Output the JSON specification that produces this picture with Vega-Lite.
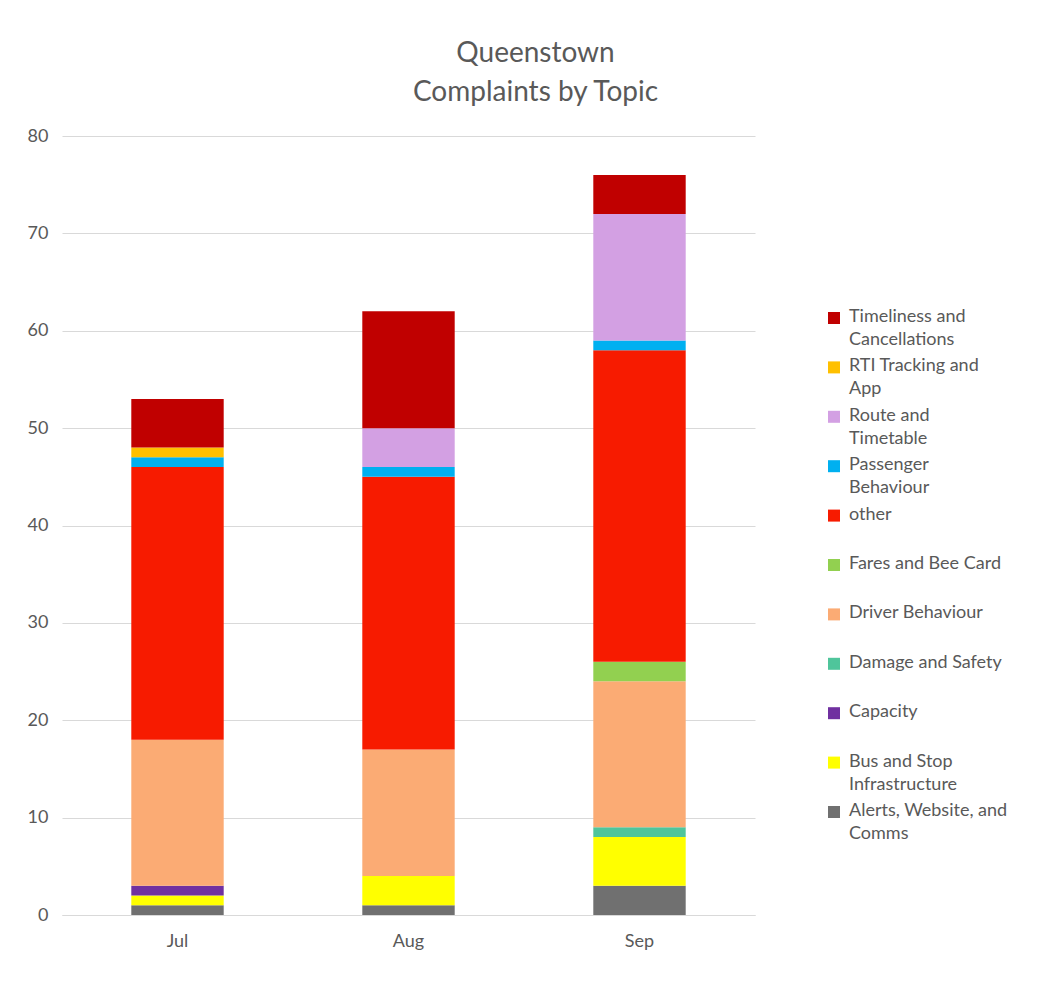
{
  "$schema": "https://vega.github.io/schema/vega-lite/v6.json",
  "width": 693,
  "height": 779,
  "autosize": {"type": "none"},
  "padding": {"left": 62, "top": 136, "right": 306, "bottom": 67},
  "background": "white",
  "title": {
    "text": ["Queenstown", "Complaints by Topic"],
    "fontSize": 28,
    "font": "Lato",
    "fontWeight": "normal",
    "color": "#595959",
    "lineHeight": 39,
    "anchor": "middle",
    "dx": 127,
    "offset": 20
  },
  "data": {
    "values": [
      {"month": "Jul", "topic": "Alerts, Website, and Comms", "count": 1},
      {"month": "Jul", "topic": "Bus and Stop Infrastructure", "count": 1},
      {"month": "Jul", "topic": "Capacity", "count": 1},
      {"month": "Jul", "topic": "Driver Behaviour", "count": 15},
      {"month": "Jul", "topic": "other", "count": 28},
      {"month": "Jul", "topic": "Passenger Behaviour", "count": 1},
      {"month": "Jul", "topic": "RTI Tracking and App", "count": 1},
      {"month": "Jul", "topic": "Timeliness and Cancellations", "count": 5},
      {"month": "Aug", "topic": "Alerts, Website, and Comms", "count": 1},
      {"month": "Aug", "topic": "Bus and Stop Infrastructure", "count": 3},
      {"month": "Aug", "topic": "Driver Behaviour", "count": 13},
      {"month": "Aug", "topic": "other", "count": 28},
      {"month": "Aug", "topic": "Passenger Behaviour", "count": 1},
      {"month": "Aug", "topic": "Route and Timetable", "count": 4},
      {"month": "Aug", "topic": "Timeliness and Cancellations", "count": 12},
      {"month": "Sep", "topic": "Alerts, Website, and Comms", "count": 3},
      {"month": "Sep", "topic": "Bus and Stop Infrastructure", "count": 5},
      {"month": "Sep", "topic": "Damage and Safety", "count": 1},
      {"month": "Sep", "topic": "Driver Behaviour", "count": 15},
      {"month": "Sep", "topic": "Fares and Bee Card", "count": 2},
      {"month": "Sep", "topic": "other", "count": 32},
      {"month": "Sep", "topic": "Passenger Behaviour", "count": 1},
      {"month": "Sep", "topic": "Route and Timetable", "count": 13},
      {"month": "Sep", "topic": "Timeliness and Cancellations", "count": 4}
    ]
  },
  "transform": [
    {"calculate": "indexof(['Timeliness and Cancellations','RTI Tracking and App','Route and Timetable','Passenger Behaviour','other','Fares and Bee Card','Driver Behaviour','Damage and Safety','Capacity','Bus and Stop Infrastructure','Alerts, Website, and Comms'], datum.topic)", "as": "stackIdx"}
  ],
  "mark": {"type": "bar"},
  "encoding": {
    "x": {
      "field": "month",
      "type": "nominal",
      "sort": ["Jul", "Aug", "Sep"],
      "scale": {"paddingInner": 0.6, "paddingOuter": 0.3},
      "axis": {
        "title": null,
        "labelAngle": 0,
        "ticks": false,
        "domainColor": "#D9D9D9",
        "domainWidth": 1,
        "labelPadding": 17,
        "labelFontSize": 18,
        "labelFont": "Lato",
        "labelColor": "#595959"
      }
    },
    "y": {
      "field": "count",
      "type": "quantitative",
      "stack": "zero",
      "scale": {"domain": [0, 80]},
      "axis": {
        "title": null,
        "values": [0, 10, 20, 30, 40, 50, 60, 70, 80],
        "domain": false,
        "ticks": false,
        "gridColor": "#D9D9D9",
        "labelPadding": 14,
        "labelFontSize": 18,
        "labelFont": "Lato",
        "labelColor": "#595959"
      }
    },
    "order": {"field": "stackIdx", "type": "quantitative", "sort": "descending"},
    "color": {
      "field": "topic",
      "type": "nominal",
      "scale": {
        "domain": [
          "Timeliness and Cancellations",
          "RTI Tracking and App",
          "Route and Timetable",
          "Passenger Behaviour",
          "other",
          "Fares and Bee Card",
          "Driver Behaviour",
          "Damage and Safety",
          "Capacity",
          "Bus and Stop Infrastructure",
          "Alerts, Website, and Comms"
        ],
        "range": ["#C00000", "#FFC000", "#D3A0E3", "#00B0F0", "#F71B00", "#92D050", "#FBAB74", "#4FC59B", "#7030A0", "#FFFF00", "#707070"]
      },
      "legend": {
        "title": null,
        "orient": "none",
        "legendX": 763,
        "legendY": 173,
        "symbolType": "square",
        "symbolSize": 144,
        "symbolStrokeWidth": 0,
        "labelFontSize": 18,
        "labelFont": "Lato",
        "labelColor": "#595959",
        "labelLimit": 300,
        "labelBaseline": "top",
        "gridAlign": "all",
        "rowPadding": 8.4,
        "labelOffset": 6,
        "labelExpr": "datum.label == 'Timeliness and Cancellations' ? ['Timeliness and', 'Cancellations'] : datum.label == 'RTI Tracking and App' ? ['RTI Tracking and', 'App'] : datum.label == 'Route and Timetable' ? ['Route and', 'Timetable'] : datum.label == 'Passenger Behaviour' ? ['Passenger', 'Behaviour'] : datum.label == 'Bus and Stop Infrastructure' ? ['Bus and Stop', 'Infrastructure'] : datum.label == 'Alerts, Website, and Comms' ? ['Alerts, Website, and', 'Comms'] : datum.label",
        "encode": {"labels": {"update": {"dy": {"value": -10}, "lineHeight": {"value": 23}}}}
      }
    }
  },
  "config": {
    "view": {"stroke": null},
    "text": {"lineHeight": 24}
  }
}
